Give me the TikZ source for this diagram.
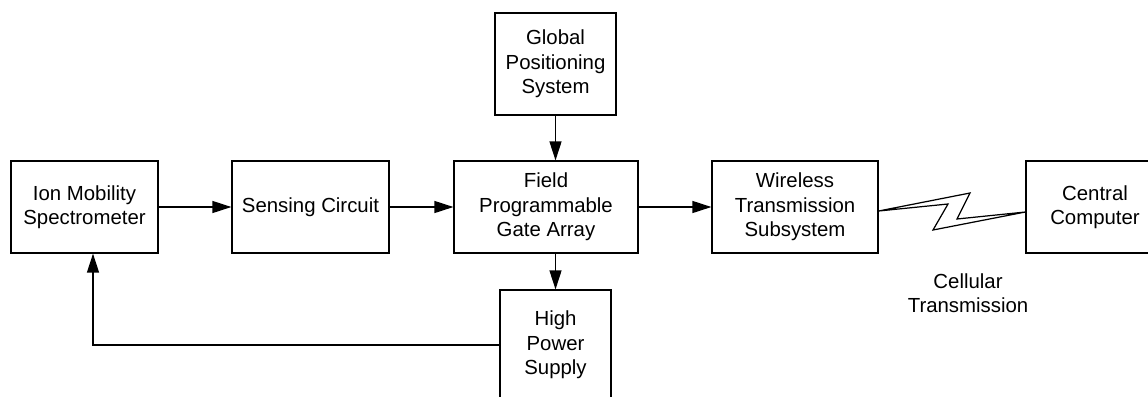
\documentclass[tikz,border=0pt]{standalone}
\usepackage{fontspec}
\setmainfont{Liberation Sans}
\usetikzlibrary{arrows.meta}

\begin{document}
\begin{tikzpicture}[x=0.02cm, y=-0.02cm, line width=0.7pt,
    block/.style={draw, rectangle, align=center, inner sep=0pt,
      minimum height=1.84cm, font=\fontsize{11.6}{13.9}\selectfont},
    >={Triangle[length=0.38cm, width=0.24cm]}]
    \useasboundingbox (0,0) rectangle (1148,396);

    \node[block, minimum width=2.94cm] (ims) at (84.5,207) {Ion Mobility\\Spectrometer};
    \node[block, minimum width=3.14cm] (sns) at (310.5,207) {Sensing Circuit};
    \node[block, minimum width=3.68cm] (fpga) at (546,207) {Field\\Programmable\\Gate Array};
    \node[block, minimum width=2.42cm, minimum height=2.04cm] (gps) at (555.5,64) {Global\\Positioning\\System};
    \node[block, minimum width=2.22cm, minimum height=2.2cm] (hps) at (555.5,345) {High\\Power\\Supply};
    \node[block, minimum width=3.32cm] (wls) at (795,207) {Wireless\\Transmission\\Subsystem};
    \node[block, minimum width=2.76cm] (ctr) at (1095,207) {Central\\Computer};
    \node[align=center, font=\fontsize{11.6}{13.9}\selectfont] (cell) at (968,293) {Cellular\\Transmission};

    \draw[->] (ims) -- (sns);
    \draw[->] (sns) -- (fpga);
    \draw[->] (gps.south) -- (gps.south |- fpga.north);
    \draw[->] (hps.north |- fpga.south) -- (hps.north);
    \draw[->] (fpga) -- (wls);
    \draw[->] (hps.west) -| ([xshift=0.17cm]ims.south);

    % cellular link
    \draw[line join=miter] ([yshift=-0.08cm]wls.east) -- (970,193) -- (957,219)
      -- ([yshift=-0.1cm]ctr.west) -- (933,230) -- (948,204) -- cycle;
\end{tikzpicture}
\end{document}
